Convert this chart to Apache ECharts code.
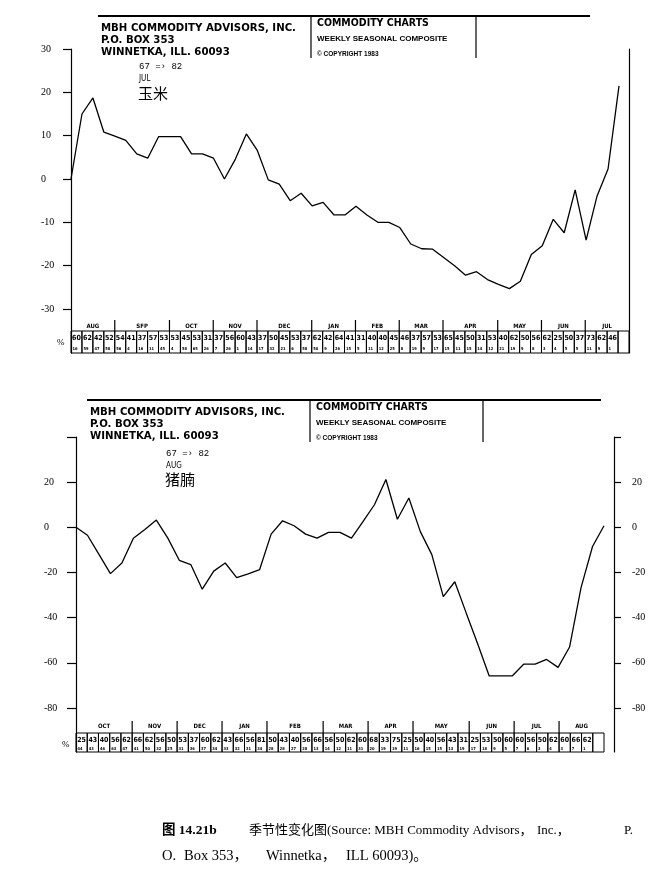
<!DOCTYPE html>
<html>
<head>
<meta charset="utf-8">
<style>
html, body { margin: 0; padding: 0; background: #fff; }
#main { width: 665px; height: 878px; }
</style>
<script src="https://cdn.jsdelivr.net/npm/echarts@6/dist/echarts.min.js"></script>
</head>
<body>
<div id="main"></div>
<script>
// 玉米 67 => 82 JUL, weekly seasonal composite (%)
const cornValues = [0, 15, 18.7, 10.8, 9.9, 8.9, 5.8, 4.8, 9.8, 9.8, 9.8, 5.8, 5.8, 4.8, 0, 4.6, 10.4, 6.6, -0.2, -1.2,
  -5, -3.3, -6.2, -5.4, -8.3, -8.3, -6.3, -8.3, -10, -10, -11.2, -15, -16.1, -16.2, -18.1, -20, -22.2, -21.4, -23.2, -24.3,
  -25.3, -23.6, -17.4, -15.4, -9.3, -12.4, -2.5, -14.1, -3.9, 2.3, 21.5];
const cornMonths = ['AUG', 'SFP', 'OCT', 'NOV', 'DEC', 'JAN', 'FEB', 'MAR', 'APR', 'MAY', 'JUN', 'JUL'];
const cornMonthWeeks = [4, 5, 4, 4, 5, 4, 4, 4, 5, 4, 4, 4];
const cornPct = [60, 62, 42, 52, 54, 41, 37, 57, 53, 53, 45, 53, 31, 37, 56, 60, 43, 37, 50, 45, 53, 37, 62, 42, 64, 41,
  31, 40, 40, 45, 46, 37, 57, 53, 65, 45, 50, 31, 53, 40, 62, 50, 56, 62, 25, 50, 37, 73, 62, 46, ''];
const cornSub = [16, 59, 47, 58, 56, 4, 16, 11, 45, 4, 58, 65, 26, 7, 26, 1, 14, 17, 32, 21, 6, 58, 50, 9, 26, 15,
  5, 11, 12, 25, 8, 19, 9, 17, 15, 11, 15, 14, 12, 21, 19, 9, 8, 3, 4, 5, 5, 11, 9, 1, ''];
const cornTickLabels = [-30, -20, -10, 0, 10, 20, 30];

// 猪腩 67 => 82 AUG
const porkValues = [0, -3.5, -12, -20.5, -15.8, -4.8, -1, 3.2, -4.8, -14.6, -16.5, -27.4, -19.4, -15.8, -22.3, -20.6,
  -18.7, -3, 2.9, 0.7, -3, -4.8, -2.2, -2.2, -4.8, 2.5, 10, 21.2, 3.6, 13, -1.9, -12.1, -30.7, -24.1, -38, -51.7,
  -65.8, -65.8, -65.8, -60.6, -60.6, -58.5, -62, -53, -26.7, -8.5, 0.7];
const porkMonths = ['OCT', 'NOV', 'DEC', 'JAN', 'FEB', 'MAR', 'APR', 'MAY', 'JUN', 'JUL', 'AUG'];
const porkMonthWeeks = [5, 4, 4, 4, 5, 4, 4, 5, 4, 4, 4];
const porkPct = [25, 43, 40, 56, 62, 66, 62, 56, 50, 53, 37, 60, 62, 43, 66, 56, 81, 50, 43, 40, 56, 66, 56, 50, 62, 60,
  68, 33, 75, 25, 50, 40, 56, 43, 31, 25, 53, 50, 60, 60, 56, 50, 62, 60, 66, 62, ''];
const porkSub = [44, 43, 46, 63, 47, 41, 50, 32, 25, 31, 36, 37, 34, 33, 32, 31, 34, 28, 28, 27, 28, 13, 14, 12, 11, 31,
  20, 19, 19, 11, 16, 15, 15, 13, 19, 17, 18, 9, 5, 7, 6, 3, 4, 3, 7, 1, ''];
const porkTickLabels = [-80, -60, -40, -20, 0, 20];
const porkAxisTop = 40;

const NARROW = '"Liberation Sans Narrow", "DejaVu Sans Condensed", "Liberation Sans", sans-serif';
const SERIF = '"Liberation Serif", "DejaVu Serif", serif';
const CJK = '"Noto Sans CJK SC", sans-serif';

function starts(weeks) {
  let s = 0;
  return weeks.map(w => { const r = s; s += w; return r; });
}

// one table cell: big % on top, small count below
function cellRender(pct, sub, L) {
  return function (params, api) {
    const i = api.value(0);
    const band = api.size([1, 0])[0];
    const cx = api.coord([i, 0])[0];
    const x0 = cx - band / 2;
    const yTop = api.coord([i, L.cellTop])[1];
    const yBot = api.coord([i, L.cellBottom])[1];
    return {
      type: 'group',
      children: [
        { type: 'rect', shape: { x: x0, y: yTop, width: band, height: yBot - yTop },
          style: { fill: 'none', stroke: '#000', lineWidth: 1 } },
        { type: 'text', style: { text: String(pct[i]), x: cx, y: api.coord([i, L.numY])[1],
          align: 'center', verticalAlign: 'middle', font: 'bold 7px ' + NARROW, fill: '#000' } },
        { type: 'text', style: { text: String(sub[i]), x: x0 + 1.5, y: api.coord([i, L.subY])[1],
          align: 'left', verticalAlign: 'middle', font: 'bold 4px ' + NARROW, fill: '#000' } }
      ]
    };
  };
}

function monthRender(names, weeks, L) {
  const st = starts(weeks);
  return function (params, api) {
    const k = params.dataIndex;
    const band = api.size([1, 0])[0];
    const x0 = api.coord([st[k], 0])[0] - band / 2;
    const x1 = x0 + weeks[k] * band;
    const kids = [{ type: 'text', style: { text: names[k], x: (x0 + x1) / 2, y: api.coord([0, L.monthY])[1],
      align: 'center', verticalAlign: 'middle', font: 'bold 6px ' + NARROW, fill: '#000' } }];
    if (k > 0) {
      kids.push({ type: 'line', shape: { x1: x0, y1: api.coord([0, L.sepTop])[1], x2: x0, y2: api.coord([0, L.cellTop])[1] },
        style: { stroke: '#000', lineWidth: 1.2 } });
    }
    return { type: 'group', children: kids };
  };
}

const cornLayout = { monthY: 17, sepTop: 11, cellTop: 22, numY: 29, subY: 40, cellBottom: 44 };
const porkLayout = { monthY: 18, sepTop: 13, cellTop: 25, numY: 32, subY: 41, cellBottom: 44 };

function lineAxis(grid, opts) {
  return Object.assign({
    gridIndex: grid, type: 'value', splitLine: { show: false },
    axisLine: { show: true, lineStyle: { color: '#000', width: 1.2 } },
    axisTick: { show: false }, axisLabel: { show: false }
  }, opts);
}
function tableAxis(grid, pos, offset) {
  return {
    gridIndex: grid, type: 'value', min: 0, max: 44, inverse: true, position: pos, offset: offset,
    splitLine: { show: false }, axisTick: { show: false }, axisLabel: { show: false },
    axisLine: { show: true, lineStyle: { color: '#000', width: 1.2 } }
  };
}
const tickLabel = { color: '#000', fontFamily: SERIF, fontSize: 10, align: 'left' };

function txt(text, x, y, font) {
  return { type: 'text', style: { text: text, x: x, y: y, font: font, fill: '#000', verticalAlign: 'middle' } };
}
function ln(x1, y1, x2, y2, w) {
  return { type: 'line', shape: { x1: x1, y1: y1, x2: x2, y2: y2 }, style: { stroke: '#000', lineWidth: w || 1.5 } };
}
function header(top, lines) {
  return [
    txt('MBH COMMODITY ADVISORS, INC.', lines.left, top + 12, 'bold 11.3px ' + NARROW),
    txt('P.O. BOX 353', lines.left, top + 24, 'bold 11.3px ' + NARROW),
    txt('WINNETKA, ILL. 60093', lines.left, top + 36, 'bold 11.3px ' + NARROW),
    txt('COMMODITY CHARTS', lines.mid + 6, top + 7, 'bold 10.5px ' + NARROW),
    txt('WEEKLY SEASONAL COMPOSITE', lines.mid + 6, top + 23, 'bold 8px "Liberation Sans", sans-serif'),
    txt('\u00a9 COPYRIGHT 1983', lines.mid + 6, top + 38, 'bold 6.5px "Liberation Sans", sans-serif'),
    ln(lines.left - 3, top, lines.end, top, 2),
    ln(lines.mid, top, lines.mid, top + 42, 1.2),
    ln(lines.right, top, lines.right, top + 42, 1.2)
  ];
}

const CAP = '13px ' + SERIF + ', ' + CJK;
const CAP2 = '14.5px ' + SERIF + ', ' + CJK;

const chart = echarts.init(document.getElementById('main'));
chart.setOption({
  animation: false,
  backgroundColor: '#fff',
  grid: [
    { left: 71, top: 49, width: 548, height: 260 },
    { left: 71, top: 309, width: 558, height: 44 },
    { left: 76, top: 437, width: 528, height: 271 },
    { left: 76, top: 708, width: 528, height: 44 }
  ],
  xAxis: [
    { gridIndex: 0, type: 'category', boundaryGap: false, data: cornValues.map((v, i) => i), show: false },
    { gridIndex: 1, type: 'category', boundaryGap: true, data: cornPct.map((v, i) => i), show: false },
    { gridIndex: 2, type: 'category', boundaryGap: false, data: porkValues.map((v, i) => i), show: false },
    { gridIndex: 3, type: 'category', boundaryGap: true, data: porkPct.map((v, i) => i), show: false }
  ],
  yAxis: [
    lineAxis(0, { min: Math.min(...cornTickLabels), max: Math.max(...cornTickLabels),
      interval: cornTickLabels[1] - cornTickLabels[0],
      axisTick: { show: true, length: 8, lineStyle: { color: '#000', width: 1.2 } },
      axisLabel: Object.assign({}, tickLabel, { margin: 30 }) }),
    lineAxis(0, { position: 'right', offset: 10, min: Math.min(...cornTickLabels), max: Math.max(...cornTickLabels) }),
    tableAxis(1, 'left', 0),
    tableAxis(1, 'right', 0),
    lineAxis(2, { min: Math.min(...porkTickLabels), max: porkAxisTop, interval: porkTickLabels[1] - porkTickLabels[0],
      axisTick: { show: true, length: 9, lineStyle: { color: '#000', width: 1.2 } },
      axisLabel: Object.assign({}, tickLabel, { margin: 32, formatter: v => porkTickLabels.includes(v) ? String(v) : '' }) }),
    lineAxis(2, { position: 'right', offset: 10, min: Math.min(...porkTickLabels), max: porkAxisTop,
      interval: porkTickLabels[1] - porkTickLabels[0],
      axisTick: { show: true, length: 7, lineStyle: { color: '#000', width: 1.2 } },
      axisLabel: Object.assign({}, tickLabel, { margin: 18, formatter: v => porkTickLabels.includes(v) ? String(v) : '' }) }),
    tableAxis(3, 'left', 0),
    tableAxis(3, 'right', 10)
  ],
  series: [
    { type: 'line', xAxisIndex: 0, yAxisIndex: 0, data: cornValues, symbol: 'none',
      lineStyle: { color: '#000', width: 1.3 } },
    { type: 'custom', xAxisIndex: 1, yAxisIndex: 2, data: cornPct.map((v, i) => [i, 0]),
      renderItem: cellRender(cornPct, cornSub, cornLayout) },
    { type: 'custom', xAxisIndex: 1, yAxisIndex: 2, data: starts(cornMonthWeeks).map(s => [s, 0]),
      renderItem: monthRender(cornMonths, cornMonthWeeks, cornLayout) },
    { type: 'line', xAxisIndex: 2, yAxisIndex: 4, data: porkValues, symbol: 'none',
      lineStyle: { color: '#000', width: 1.3 } },
    { type: 'custom', xAxisIndex: 3, yAxisIndex: 6, data: porkPct.map((v, i) => [i, 0]),
      renderItem: cellRender(porkPct, porkSub, porkLayout) },
    { type: 'custom', xAxisIndex: 3, yAxisIndex: 6, data: starts(porkMonthWeeks).map(s => [s, 0]),
      renderItem: monthRender(porkMonths, porkMonthWeeks, porkLayout) }
  ],
  graphic: [].concat(
    header(16, { left: 101, mid: 311, right: 476, end: 590 }),
    [
      txt('67 =\u203a 82', 139, 67, '9px "Liberation Mono", monospace'),
      txt('JUL', 139, 79, '8px ' + NARROW),
      txt('玉米', 138, 93, '15px ' + CJK),
      txt('%', 57, 343, '9px ' + SERIF)
    ],
    header(400, { left: 90, mid: 310, right: 483, end: 601 }),
    [
      txt('67 =\u203a 82', 166, 454, '9px "Liberation Mono", monospace'),
      txt('AUG', 166, 466, '8px ' + NARROW),
      txt('猪腩', 165, 479, '15px ' + CJK),
      txt('%', 62, 745, '9px ' + SERIF),
      txt('图 14.21b', 162, 831, 'bold 13.5px ' + SERIF + ', ' + CJK),
      txt('季节性变化图(Source: MBH Commodity Advisors，', 249, 831, CAP),
      txt('Inc.，', 537, 831, CAP),
      txt('P.', 624, 831, CAP),
      txt('O.', 162, 856, CAP2),
      txt('Box 353，', 184, 856, CAP2),
      txt('Winnetka，', 266, 856, CAP2),
      txt('ILL 60093)。', 346, 856, CAP2)
    ]
  )
});
</script>
</body>
</html>
